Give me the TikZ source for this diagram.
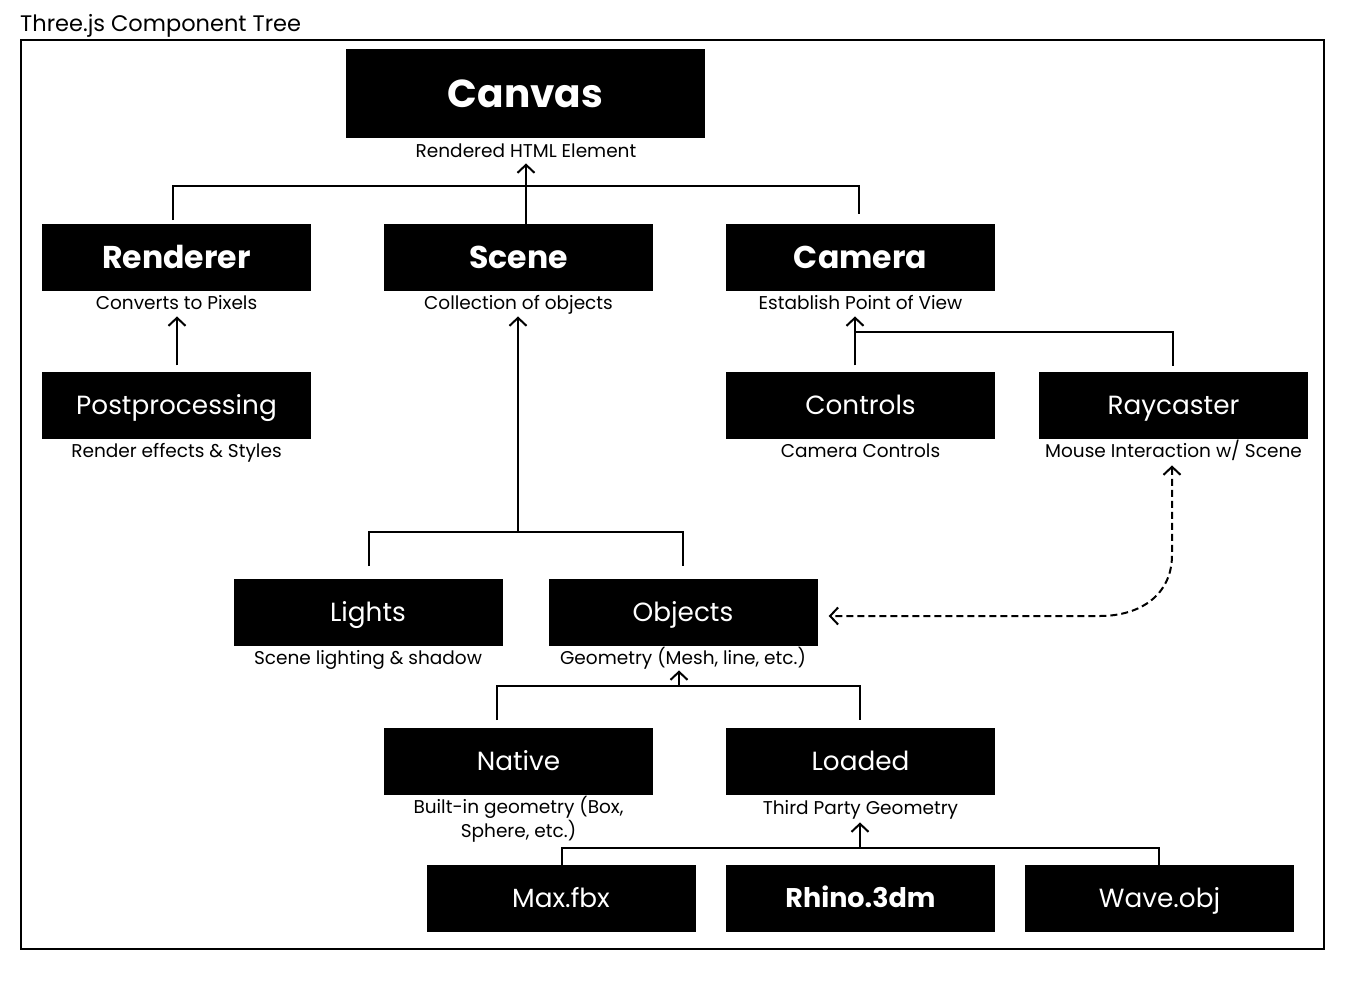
\documentclass[tikz,border=0pt]{standalone}
\usepackage{fontspec}
\setmainfont{Poppins}
\usetikzlibrary{arrows.meta,calc}
\begin{document}
\begin{tikzpicture}[x=1pt,y=-1pt,
  box/.style={fill=black, minimum width=269pt, minimum height=67pt, inner sep=0pt, text=white},
  boldbox/.style={box, font=\fontsize{31.5}{34}\selectfont\bfseries, text height=26.8pt, text depth=4.7pt},
  plainbox/.style={box, font=\fontsize{26.3}{30}\selectfont, text height=22.4pt, text depth=3.9pt},
  lbltext/.style={inner sep=0pt, font=\fontsize{18.5}{24}\selectfont, align=center},
  lbl/.style={lbltext, text height=15.7pt, text depth=2.8pt},
  conn/.style={line width=2pt, line join=miter},
  arr/.style={conn, -{Straight Barb[length=8pt,width=17pt]}},
  dasharr/.style={conn, dash pattern=on 7pt off 4pt, {Straight Barb[length=8pt,width=17pt]}-{Straight Barb[length=8pt,width=17pt]}}
]
\useasboundingbox (0,0) rectangle (1362,987);
\fill[white] (0,0) rectangle (1362,987);
\node[inner sep=0pt, anchor=base west, font=\fontsize{22.5}{24}\selectfont] (title) at (20,32) {Three.js Component Tree};
\draw[line width=2pt] (21,40) rectangle (1324,949);

% boxes
\node[box, minimum width=359pt, minimum height=89pt, font=\fontsize{39}{44}\selectfont\bfseries, text height=33.2pt, text depth=5.9pt] (canvas) at (525.5,93.5) {Canvas};
\node[lbl] (canvaslbl) at (526,151) {Rendered HTML Element};

\node[boldbox] (renderer) at (176.5,257.5) {Renderer};
\node[lbl] (rendererlbl) at (176.5,303) {Converts to Pixels};
\node[boldbox] (scene) at (518.5,257.5) {Scene};
\node[lbl] (scenelbl) at (518.5,303) {Collection of objects};
\node[boldbox] (camera) at (860.5,257.5) {Camera};
\node[lbl] (cameralbl) at (860.5,303) {Establish Point of View};

\node[plainbox] (post) at (176.5,405) {Postprocessing};
\node[lbl] (postlbl) at (176.5,451) {Render effects \& Styles};
\node[plainbox] (controls) at (860.5,405) {Controls};
\node[lbl] (controlslbl) at (860.5,451) {Camera Controls};
\node[plainbox] (ray) at (1173.5,405) {Raycaster};
\node[lbl] (raylbl) at (1173.5,451) {Mouse Interaction w/ Scene};

\node[plainbox] (lights) at (368,612) {Lights};
\node[lbl] (lightslbl) at (368,658) {Scene lighting \& shadow};
\node[plainbox] (objects) at (683,612) {Objects};
\node[lbl] (objectslbl) at (683,658) {Geometry (Mesh, line, etc.)};

\node[plainbox] (native) at (518.5,761.5) {Native};
\node[lbltext] (nativelbl) at (518.5,819.5) {Built-in geometry (Box,\\Sphere, etc.)};
\node[plainbox] (loaded) at (860.5,761.5) {Loaded};
\node[lbl] (loadedlbl) at (860.5,808) {Third Party Geometry};

\node[plainbox] (max) at (561,898) {Max.fbx};
\node[box, font=\fontsize{27}{30}\selectfont\bfseries, text height=23pt, text depth=4pt] (rhino) at (860.5,898) {Rhino.3dm};
\node[plainbox] (wave) at (1159.5,898) {Wave.obj};

% coordinates for tree junctions
\coordinate (j1) at (526,186);
\coordinate (j2) at (518,532);
\coordinate (j3) at (855,332);
\coordinate (j4) at (679,686);
\coordinate (j5) at (860,848);

% canvas tree
\draw[conn] (173,220) -- (173,186) -- (859,186) -- (859,214);
\draw[arr] (j1 |- scene.north) -- ([yshift=-3pt]canvaslbl.south -| j1);
% renderer
\draw[arr] ([yshift=6pt]post.north -| 177,0) -- ([yshift=-4pt]rendererlbl.south -| 177,0);
% scene
\draw[conn] (369,566) -- (369,532) -- (683,532) -- (683,566);
\draw[arr] (j2) -- ([yshift=-4pt]scenelbl.south -| j2);
% camera
\draw[conn] (j3) -- (1173,332) -- (1173,366);
\draw[arr] ([yshift=6pt]controls.north -| j3) -- ([yshift=-4pt]cameralbl.south -| j3);
% objects
\draw[conn] (497,720) -- (497,686) -- (860,686) -- (860,720);
\draw[arr] (j4) -- ([yshift=-3pt]objectslbl.south -| j4);
% loaded
\draw[conn] (562,865) -- (562,848) -- (1159,848) -- (1159,865);
\draw[arr] (j5) -- ([yshift=-5pt]loadedlbl.south -| j5);
% dashed raycaster <-> objects
\draw[dasharr] ([yshift=-5pt]raylbl.south -| 1172,0) -- (1172,555) .. controls (1172,595) and (1140,616) .. (1100,616) -- ([xshift=11pt,yshift=-4pt]objects.east);
\end{tikzpicture}
\end{document}
